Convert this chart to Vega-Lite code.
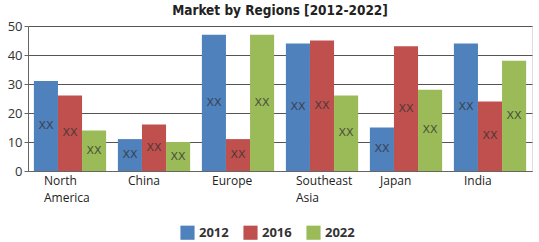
{
  "$schema": "https://vega.github.io/schema/vega-lite/v6.json",
  "autosize": {"type": "none"},
  "width": 504,
  "height": 145,
  "padding": {"left": 28, "top": 26, "right": 7, "bottom": 71},
  "background": "white",
  "config": {
    "axisY": {
      "labelFont": "Open Sans",
      "labelFontSize": 13,
      "labelColor": "#333",
      "gridColor": "#555",
      "gridWidth": 1,
      "domainColor": "#666",
      "tickColor": "#666",
      "tickSize": 4,
      "labelPadding": 2,
      "labelOverlap": false
    }
  },
  "title": {
    "text": "Market by Regions [2012-2022]",
    "font": "DejaVu Sans Condensed",
    "fontSize": 13.5,
    "fontWeight": "bold",
    "color": "#222",
    "anchor": "middle",
    "offset": 3
  },
  "data": {
    "values": [
      {"region": "North America", "year": "2012", "value": 31, "label": "XX"},
      {"region": "North America", "year": "2016", "value": 26, "label": "XX"},
      {"region": "North America", "year": "2022", "value": 14, "label": "XX"},
      {"region": "China", "year": "2012", "value": 11, "label": "XX"},
      {"region": "China", "year": "2016", "value": 16, "label": "XX"},
      {"region": "China", "year": "2022", "value": 10, "label": "XX"},
      {"region": "Europe", "year": "2012", "value": 47, "label": "XX"},
      {"region": "Europe", "year": "2016", "value": 11, "label": "XX"},
      {"region": "Europe", "year": "2022", "value": 47, "label": "XX"},
      {"region": "Southeast Asia", "year": "2012", "value": 44, "label": "XX"},
      {"region": "Southeast Asia", "year": "2016", "value": 45, "label": "XX"},
      {"region": "Southeast Asia", "year": "2022", "value": 26, "label": "XX"},
      {"region": "Japan", "year": "2012", "value": 15, "label": "XX"},
      {"region": "Japan", "year": "2016", "value": 43, "label": "XX"},
      {"region": "Japan", "year": "2022", "value": 28, "label": "XX"},
      {"region": "India", "year": "2012", "value": 44, "label": "XX"},
      {"region": "India", "year": "2016", "value": 24, "label": "XX"},
      {"region": "India", "year": "2022", "value": 38, "label": "XX"}
    ]
  },
  "encoding": {
    "x": {
      "field": "region",
      "type": "nominal",
      "sort": null,
      "title": null,
      "scale": {"paddingInner": 0.14, "paddingOuter": 0.07},
      "axis": {
        "labelAngle": 0,
        "labelExpr": "datum.label == 'North America' ? ['North', 'America'] : datum.label == 'Southeast Asia' ? ['Southeast', 'Asia'] : datum.label",
        "labelFont": "Open Sans",
        "labelFontSize": 12,
        "labelColor": "#222",
        "labelAlign": "left",
        "labelOffset": -26,
        "labelPadding": 4,
        "labelLineHeight": 17,
        "domainColor": "#666",
        "ticks": false,
        "grid": false
      }
    },
    "xOffset": {"field": "year", "type": "nominal", "scale": {"paddingInner": 0, "paddingOuter": 0}}
  },
  "layer": [
    {
      "mark": {"type": "bar"},
      "encoding": {
        "y": {
          "field": "value",
          "type": "quantitative",
          "title": null,
          "scale": {"domain": [0, 50], "nice": false},
          "axis": {"values": [0, 10, 20, 30, 40, 50]}
        },
        "color": {
          "field": "year",
          "type": "nominal",
          "title": null,
          "scale": {"domain": ["2012", "2016", "2022"], "range": ["#4F81BD", "#C0504D", "#9BBB59"]},
          "legend": {
            "orient": "none",
            "direction": "horizontal",
            "legendX": 152,
            "legendY": 199,
            "symbolType": "square",
            "symbolSize": 200,
            "symbolStrokeWidth": 0,
            "labelFont": "Open Sans",
            "labelFontSize": 13,
            "labelFontWeight": "bold",
            "labelColor": "#333",
            "columnPadding": 14
          }
        }
      }
    },
    {
      "transform": [{"calculate": "datum.value / 2", "as": "mid"}],
      "mark": {"type": "text", "font": "DejaVu Sans", "fontSize": 11, "color": "#333", "opacity": 0.8},
      "encoding": {
        "y": {
          "field": "mid",
          "type": "quantitative",
          "title": null,
          "scale": {"domain": [0, 50], "nice": false},
          "axis": {"values": [0, 10, 20, 30, 40, 50]}
        },
        "text": {"field": "label"}
      }
    }
  ]
}
